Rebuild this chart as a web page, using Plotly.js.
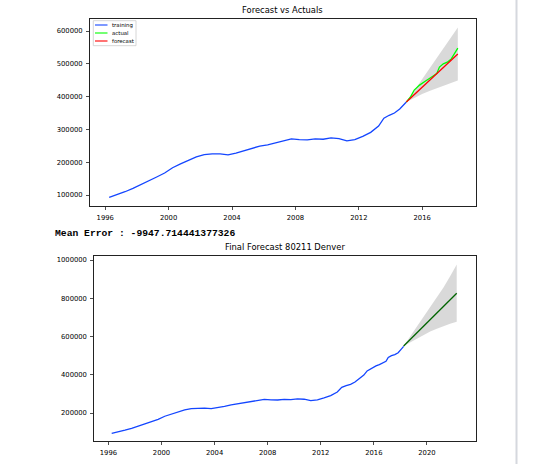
<!DOCTYPE html>
<html>
<head>
<meta charset="utf-8">
<script src="https://cdn.plot.ly/plotly-3.0.1.min.js"></script>
<style>html,body{margin:0;padding:0;background:#fff;}#chart{width:552px;height:464px;}</style>
</head>
<body>
<div id="chart"></div>
<script>
// ---- data ----
const trainDates = ['1996-04-01','1996-10-01','1997-04-01','1997-10-01','1998-04-01','1998-10-01','1999-04-01','1999-10-01',
  '2000-04-01','2000-10-01','2001-04-01','2001-10-01','2002-04-01','2002-10-01','2003-04-01','2003-10-01',
  '2004-04-01','2004-10-01','2005-04-01','2005-10-01','2006-04-01','2006-10-01','2007-04-01','2007-10-01',
  '2008-04-01','2008-10-01','2009-04-01','2009-10-01','2010-04-01','2010-10-01','2011-04-01','2011-10-01',
  '2012-04-01','2012-10-01','2013-04-01','2013-08-01','2013-12-01','2014-04-01','2014-08-01','2015-01-01'];
const trainValues = [93000,100500,110000,120000,131000,143000,155000,167000,
  183000,195000,206000,216000,223000,225500,225500,222500,
  228000,235000,243000,249000,253000,259000,267000,271000,
  269000,268000,271000,270000,274000,272000,265000,269000,
  279000,291000,310000,334000,343000,350000,362000,383500];

const actualDates = ['2015-01-01','2015-04-01','2015-07-01','2015-11-01','2016-03-01','2016-06-01','2016-09-01',
  '2016-12-01','2017-02-01','2017-05-01','2017-08-01','2017-11-01','2018-02-01','2018-04-01'];
const actualValues = [383500,398000,420000,435000,446000,453000,462000,
  470000,490000,500000,505000,515000,535000,548000];

const fcDates = ['2015-01-01','2015-07-01','2016-01-01','2016-07-01','2017-01-01','2017-07-01','2018-01-01','2018-04-01'];
const fcValues = [383500,406000,428500,451000,473500,496000,518500,530000];
const fcUpper  = [383500,418000,453000,488000,523000,558000,593000,611000];
const fcLower  = [383500,396000,408000,418000,427000,435000,443000,449000];

const finalDates = ['2018-04-01','2018-10-01','2019-04-01','2019-10-01','2020-04-01','2020-10-01','2021-04-01','2021-10-01','2022-04-01'];
const finalValues = [550000,584500,619000,653500,688000,722500,757000,791500,826000];
const finalUpper  = [550000,600000,650000,700000,750000,802000,856000,915000,977000];
const finalLower  = [550000,570000,590000,608000,626000,640000,654000,666000,677000];

const legendLabels = ['training','actual','forecast'];
const topTitle = 'Forecast vs Actuals';
const bottomTitle = 'Final Forecast 80211 Denver';
const meanErrorText = 'Mean Error : -9947.714441377326';

// ---- styles ----
const W = 552, H = 464;
const C_TRAIN = '#1446ff', C_ACT = '#00ff00', C_FC = '#ff0000', C_FINAL = '#006400';
const FILL = 'rgba(0,0,0,0.15)';
const LW = 1.3;
const px = x => x / W;
const py = y => 1 - y / H;

const histDates = trainDates.concat(actualDates.slice(1));
const histValues = trainValues.concat(actualValues.slice(1));

const traces = [
  // top chart
  {x: fcDates, y: fcLower, xaxis:'x', yaxis:'y', mode:'lines', line:{width:0, color:FILL}, showlegend:false, hoverinfo:'skip'},
  {x: fcDates, y: fcUpper, xaxis:'x', yaxis:'y', mode:'lines', line:{width:0, color:FILL}, fill:'tonexty', fillcolor:FILL, showlegend:false, hoverinfo:'skip'},
  {x: trainDates, y: trainValues, xaxis:'x', yaxis:'y', mode:'lines', line:{color:C_TRAIN, width:LW}, name:legendLabels[0], showlegend:false},
  {x: actualDates, y: actualValues, xaxis:'x', yaxis:'y', mode:'lines', line:{color:C_ACT, width:LW}, name:legendLabels[1], showlegend:false},
  {x: fcDates, y: fcValues, xaxis:'x', yaxis:'y', mode:'lines', line:{color:C_FC, width:LW}, name:legendLabels[2], showlegend:false},
  // bottom chart
  {x: finalDates, y: finalLower, xaxis:'x2', yaxis:'y2', mode:'lines', line:{width:0, color:FILL}, showlegend:false, hoverinfo:'skip'},
  {x: finalDates, y: finalUpper, xaxis:'x2', yaxis:'y2', mode:'lines', line:{width:0, color:FILL}, fill:'tonexty', fillcolor:FILL, showlegend:false, hoverinfo:'skip'},
  {x: histDates, y: histValues, xaxis:'x2', yaxis:'y2', mode:'lines', line:{color:C_TRAIN, width:LW}, showlegend:false},
  {x: finalDates, y: finalValues, xaxis:'x2', yaxis:'y2', mode:'lines', line:{color:C_FINAL, width:LW}, showlegend:false}
];

const tickFont = {family:'DejaVu Sans', size:6.8, color:'#000000'};
const axCommon = {showline:true, mirror:true, linecolor:'#222222', linewidth:1, ticks:'outside', ticklen:3, tickcolor:'#222222',
  tickwidth:0.8, showgrid:false, zeroline:false, tickfont:tickFont, ticklabelstandoff:2, fixedrange:true};

const layout = {
  width: W, height: H, autosize:false,
  margin:{l:0, r:0, t:0, b:0, pad:0},
  paper_bgcolor:'#fff', plot_bgcolor:'#fff',
  showlegend:false,
  font:{family:'DejaVu Sans', color:'#000000'},
  xaxis: Object.assign({}, axCommon, {domain:[px(90), px(475.7)], anchor:'y', type:'date',
    range:['1995-01-15','2019-05-18'], tick0:'1996-01-01', dtick:'M48', tickformat:'%Y'}),
  yaxis: Object.assign({}, axCommon, {domain:[py(205.7), py(18.7)], anchor:'x',
    range:[67400, 637500], tick0:0, dtick:100000, tickformat:'d'}),
  xaxis2: Object.assign({}, axCommon, {domain:[px(94.3), px(475.7)], anchor:'y2', type:'date',
    range:['1994-12-09','2023-09-05'], tick0:'1996-01-01', dtick:'M48', tickformat:'%Y'}),
  yaxis2: Object.assign({}, axCommon, {domain:[py(441.3), py(256)], anchor:'x2',
    range:[52000, 1020900], tick0:0, dtick:200000, tickformat:'d'}),
  annotations: [],
  shapes: []
};

// titles
layout.annotations.push({text:topTitle, xref:'x domain', yref:'y domain', x:0.5, y:1, xanchor:'center', yanchor:'bottom',
  yshift:2, showarrow:false, font:{family:'DejaVu Sans', size:8.4, color:'#000'}});
layout.annotations.push({text:bottomTitle, xref:'x2 domain', yref:'y2 domain', x:0.5, y:1, xanchor:'center', yanchor:'bottom',
  yshift:2, showarrow:false, font:{family:'DejaVu Sans', size:8.4, color:'#000'}});
// notebook output text
layout.annotations.push({text:meanErrorText, xref:'paper', yref:'paper', x:px(53), y:py(233), xanchor:'left', yanchor:'middle',
  showarrow:false, font:{family:'Liberation Mono', size:9.7, color:'#000', weight:'bold'}});

// custom compact legend (matplotlib style)
const legColors = [C_TRAIN, C_ACT, C_FC];
layout.shapes.push({type:'rect', xref:'paper', yref:'paper', x0:px(93.3), x1:px(136), y0:py(45.7), y1:py(20.7),
  line:{color:'#cccccc', width:0.8}, fillcolor:'rgba(255,255,255,0.8)', layer:'above'});
legendLabels.forEach((lab, i) => {
  const yc = 25 + i * 8;
  layout.shapes.push({type:'line', xref:'paper', yref:'paper', x0:px(95), x1:px(107.5), y0:py(yc), y1:py(yc),
    line:{color:legColors[i], width:1.1}, layer:'above'});
  layout.annotations.push({text:lab, xref:'paper', yref:'paper', x:px(110), y:py(yc), xanchor:'left', yanchor:'middle',
    showarrow:false, font:{family:'DejaVu Sans', size:5.4, color:'#000'}});
});

// notebook page divider on the right
layout.shapes.push({type:'line', xref:'paper', yref:'paper', x0:px(516.5), x1:px(516.5), y0:0, y1:1,
  line:{color:'#d5d8de', width:2}});

Plotly.newPlot('chart', traces, layout, {staticPlot:true, displayModeBar:false});
</script>
</body>
</html>
